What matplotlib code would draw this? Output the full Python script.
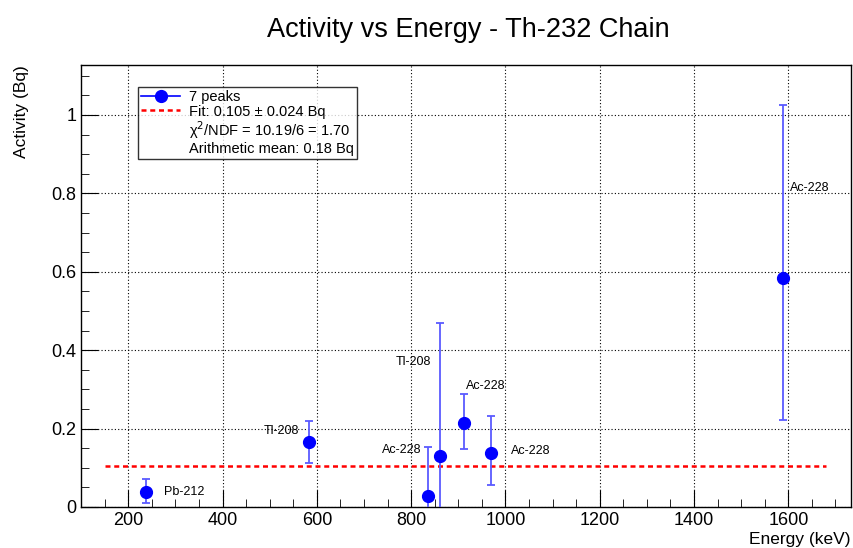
import matplotlib.pyplot as plt
from matplotlib.lines import Line2D
from matplotlib.ticker import MultipleLocator

plt.rcParams["font.family"] = ["Liberation Sans", "DejaVu Sans"]

ISOTOPES = ["Pb-212", "Tl-208", "Ac-228", "Tl-208", "Ac-228", "Ac-228", "Ac-228"]
ENERGY = [238.6, 583.2, 835.7, 860.6, 911.2, 969.0, 1588.2]
ACTIVITY = [0.039, 0.166, 0.028, 0.130, 0.215, 0.137, 0.585]
ERR_LOW = [0.030, 0.053, 0.126, 0.340, 0.067, 0.080, 0.362]
ERR_HIGH = [0.033, 0.053, 0.126, 0.340, 0.072, 0.096, 0.440]
FIT_VALUE = 0.105
FIT_RANGE = [150, 1680]
LABEL_POS = [(275, 0.038, "left"), (563, 0.194, "right"), (822, 0.145, "right"),
             (843, 0.37, "right"), (917, 0.309, "left"), (1011, 0.143, "left"),
             (1604, 0.814, "left")]


def main() -> None:
    fig = plt.figure(figsize=(8.54, 5.48), dpi=100)
    ax = fig.add_axes([0.095, 0.075, 0.901, 0.806])

    ax.errorbar(ENERGY, ACTIVITY, yerr=[ERR_LOW, ERR_HIGH], fmt="none", ecolor="#5a5aff",
                elinewidth=1.3, capsize=3, capthick=1.3, zorder=3)
    ax.plot(ENERGY, ACTIVITY, "o", color="#0000ff", ms=8.5, zorder=4)
    ax.plot(FIT_RANGE, [FIT_VALUE, FIT_VALUE], color="red", ls=(0, (2, 1.5)), lw=1.8, zorder=2)

    for name, (x, y, ha) in zip(ISOTOPES, LABEL_POS):
        ax.text(x, y, name, ha=ha, va="center", fontsize=9)

    ax.set_xlim(100, 1732)
    ax.set_ylim(0, 1.127)
    ax.xaxis.set_major_locator(MultipleLocator(200))
    ax.xaxis.set_minor_locator(MultipleLocator(50))
    ax.yaxis.set_major_locator(MultipleLocator(0.2))
    ax.yaxis.set_minor_locator(MultipleLocator(0.05))
    ax.yaxis.set_major_formatter(lambda v, pos: f"{v:g}")
    ax.tick_params(which="both", direction="in", top=False, right=False, labelsize=13)
    ax.tick_params(which="major", length=12)
    ax.tick_params(which="minor", length=6)
    ax.grid(True, which="major", color="black", ls=(0, (1, 2)), lw=0.8)
    for spine in ax.spines.values():
        spine.set_linewidth(1.0)

    ax.set_xlabel("Energy (keV)", fontsize=12.5, loc="right", labelpad=2)
    ax.set_ylabel("Activity (Bq)", fontsize=12.5, loc="top", labelpad=16)
    fig.text(0.548, 0.945, "Activity vs Energy - Th-232 Chain", fontsize=19.5,
             ha="center", va="center")

    handles = [
        Line2D([], [], color="#0000ff", marker="o", ms=8.5, lw=1.2),
        Line2D([], [], color="red", ls=(0, (2, 1.5)), lw=1.8),
        Line2D([], [], ls="none"),
        Line2D([], [], ls="none"),
    ]
    labels = ["7 peaks", "Fit: 0.105 \u00b1 0.024 Bq",
              "\u03c7$^2$/NDF = 10.19/6 = 1.70", "Arithmetic mean: 0.18 Bq"]
    leg = ax.legend(handles, labels, loc="upper left", bbox_to_anchor=(0.074, 0.951),
                    fontsize=10.5, frameon=True, fancybox=False, edgecolor="black",
                    handlelength=2.7, labelspacing=0.05, borderpad=0.2, handletextpad=0.6,
                    borderaxespad=0)
    leg.get_frame().set_linewidth(1.0)

    fig.savefig("out.png", dpi=100)


if __name__ == "__main__":
    main()
